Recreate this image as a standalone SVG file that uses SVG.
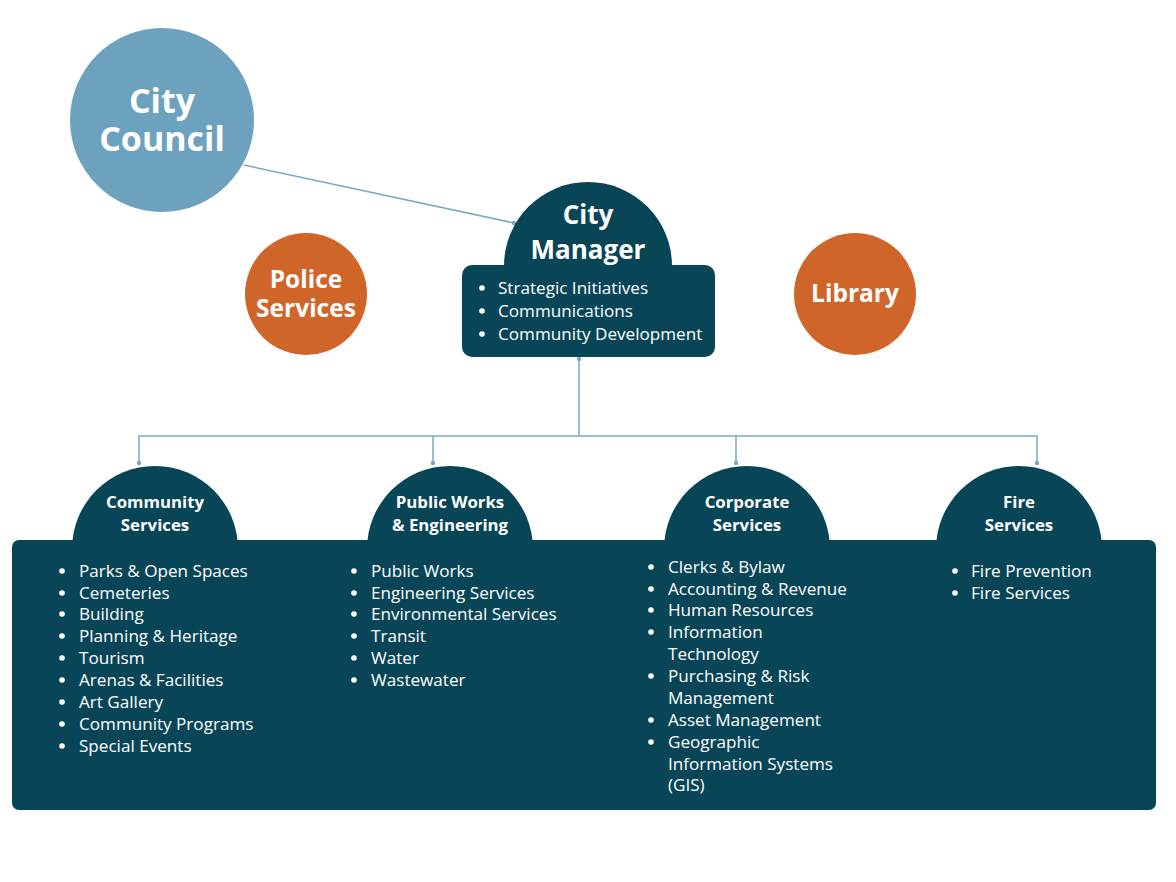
<svg xmlns="http://www.w3.org/2000/svg" width="1176" height="882" viewBox="0 0 1176 882">
<style>
.dk{fill:#084657}
.t{font-family:"Open Sans","Liberation Sans",sans-serif;fill:#ffffff}
.b{font-weight:bold}
.it{font-size:17.1px}
.hd{font-size:16.8px;font-weight:bold;text-anchor:middle}
.ln{stroke:#7ba8c2;stroke-width:1.5;fill:none}
.bu{fill:#ffffff}
</style>
<defs>
<marker id="dot" viewBox="0 0 6 6" refX="3" refY="3" markerWidth="4" markerHeight="4" markerUnits="userSpaceOnUse"><rect x="0" y="0" width="6" height="6" rx="2" fill="#7ba8c2"/></marker>
</defs>
<rect width="1176" height="882" fill="#ffffff"/>
<g id="connectors">
<line class="ln" x1="244" y1="165" x2="514" y2="223" marker-end="url(#dot)"/>
<line class="ln" x1="579" y1="436" x2="579" y2="359" marker-end="url(#dot)"/>
<polyline class="ln" points="139,463 139,436 1037,436 1037,463"/>
<line class="ln" x1="433" y1="436" x2="433" y2="463"/>
<line class="ln" x1="736" y1="436" x2="736" y2="463"/>
<g fill="#7ba8c2"><rect x="137" y="461" width="4" height="4" rx="1"/><rect x="431" y="461" width="4" height="4" rx="1"/><rect x="734" y="461" width="4" height="4" rx="1"/><rect x="1035" y="461" width="4" height="4" rx="1"/></g>
</g>
<g id="city-council">
<circle cx="162" cy="120" r="92" fill="#6ca2bd"/>
<text class="t b" x="162" y="113" font-size="34" text-anchor="middle">City</text>
<text class="t b" x="162" y="151" font-size="34" text-anchor="middle">Council</text>
</g>
<g id="police-services">
<circle cx="306" cy="294" r="61" fill="#d0652a"/>
<text class="t b" x="306" y="288" font-size="24.5" text-anchor="middle">Police</text>
<text class="t b" x="306" y="317" font-size="24.5" text-anchor="middle">Services</text>
</g>
<g id="library">
<circle cx="855" cy="294" r="61" fill="#d0652a"/>
<text class="t b" x="855" y="302" font-size="24.5" text-anchor="middle">Library</text>
</g>
<g id="city-manager">
<circle class="dk" cx="588" cy="266" r="84"/>
<rect class="dk" x="462" y="265" width="253" height="92" rx="10"/>
<text class="t b" x="588" y="224" font-size="26" text-anchor="middle">City</text>
<text class="t b" x="588" y="259" font-size="26" text-anchor="middle">Manager</text>
<g class="bu"><circle cx="482" cy="288" r="2.8"/><circle cx="482" cy="311" r="2.8"/><circle cx="482" cy="334" r="2.8"/></g>
<g class="t it">
<text x="498" y="294">Strategic Initiatives</text>
<text x="498" y="317">Communications</text>
<text x="498" y="340">Community Development</text>
</g>
</g>
<g id="departments-panel">
<circle class="dk" cx="155" cy="549" r="83"/>
<circle class="dk" cx="450" cy="549" r="83"/>
<circle class="dk" cx="747" cy="549" r="83"/>
<circle class="dk" cx="1019" cy="549" r="83"/>
<rect class="dk" x="12" y="540" width="1144" height="270" rx="7"/>
</g>
<g id="community-services">
<text class="t hd" x="155" y="508">Community</text>
<text class="t hd" x="155" y="531">Services</text>
<g class="bu"><circle cx="62" cy="571" r="2.8"/><circle cx="62" cy="593" r="2.8"/><circle cx="62" cy="614" r="2.8"/><circle cx="62" cy="636" r="2.8"/><circle cx="62" cy="658" r="2.8"/><circle cx="62" cy="680" r="2.8"/><circle cx="62" cy="702" r="2.8"/><circle cx="62" cy="724" r="2.8"/><circle cx="62" cy="746" r="2.8"/></g>
<g class="t it">
<text x="79" y="577">Parks &amp; Open Spaces</text>
<text x="79" y="599">Cemeteries</text>
<text x="79" y="620">Building</text>
<text x="79" y="642">Planning &amp; Heritage</text>
<text x="79" y="664">Tourism</text>
<text x="79" y="686">Arenas &amp; Facilities</text>
<text x="79" y="708">Art Gallery</text>
<text x="79" y="730">Community Programs</text>
<text x="79" y="752">Special Events</text>
</g>
</g>
<g id="public-works">
<text class="t hd" x="450" y="508">Public Works</text>
<text class="t hd" x="450" y="531">&amp; Engineering</text>
<g class="bu"><circle cx="354" cy="571" r="2.8"/><circle cx="354" cy="593" r="2.8"/><circle cx="354" cy="614" r="2.8"/><circle cx="354" cy="636" r="2.8"/><circle cx="354" cy="658" r="2.8"/><circle cx="354" cy="680" r="2.8"/></g>
<g class="t it">
<text x="371" y="577">Public Works</text>
<text x="371" y="599">Engineering Services</text>
<text x="371" y="620">Environmental Services</text>
<text x="371" y="642">Transit</text>
<text x="371" y="664">Water</text>
<text x="371" y="686">Wastewater</text>
</g>
</g>
<g id="corporate-services">
<text class="t hd" x="747" y="508">Corporate</text>
<text class="t hd" x="747" y="531">Services</text>
<g class="bu"><circle cx="651" cy="567" r="2.8"/><circle cx="651" cy="589" r="2.8"/><circle cx="651" cy="610" r="2.8"/><circle cx="651" cy="632" r="2.8"/><circle cx="651" cy="676" r="2.8"/><circle cx="651" cy="720" r="2.8"/><circle cx="651" cy="742" r="2.8"/></g>
<g class="t it">
<text x="668" y="573">Clerks &amp; Bylaw</text>
<text x="668" y="595">Accounting &amp; Revenue</text>
<text x="668" y="616">Human Resources</text>
<text x="668" y="638">Information</text>
<text x="668" y="660">Technology</text>
<text x="668" y="682">Purchasing &amp; Risk</text>
<text x="668" y="704">Management</text>
<text x="668" y="726">Asset Management</text>
<text x="668" y="748">Geographic</text>
<text x="668" y="770">Information Systems</text>
<text x="668" y="791">(GIS)</text>
</g>
</g>
<g id="fire-services">
<text class="t hd" x="1019" y="508">Fire</text>
<text class="t hd" x="1019" y="531">Services</text>
<g class="bu"><circle cx="955" cy="571" r="2.8"/><circle cx="955" cy="593" r="2.8"/></g>
<g class="t it">
<text x="971" y="577">Fire Prevention</text>
<text x="971" y="599">Fire Services</text>
</g>
</g>
</svg>
